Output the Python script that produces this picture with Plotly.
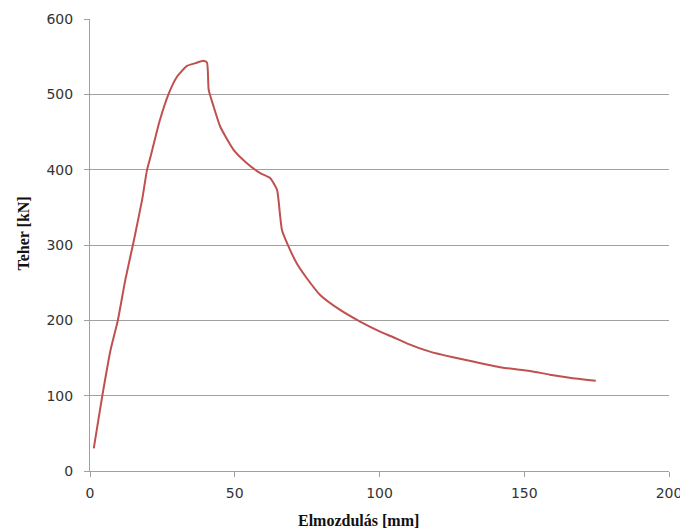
import plotly.graph_objects as go

# Displacement [mm] and load [kN]
elmozdulas = [1.3, 4.2, 7.1, 9.6, 12.2, 15.1, 18.0, 19.7, 20.9, 24.0, 27.2, 30.1,
              33.5, 36.4, 39.2, 40.4, 41.0, 42.7, 45.0, 49.6, 54.2, 58.8, 62.2,
              64.6, 65.7, 66.3, 68.6, 71.4, 74.9, 79.5, 86.4, 93.3, 100.2,
              104.8, 109.4, 117.4, 125.4, 133.5, 142.7, 151.9, 158.8, 165.7, 174.7]
teher = [30, 98.7, 160.7, 199.6, 253.7, 305, 359.9, 399.7, 417, 464, 501, 523.6,
         537.8, 541.4, 544.5, 542.2, 506, 483.8, 457, 426.3, 408.6, 395.4, 388.8,
         373.2, 337.7, 320, 297.9, 275.8, 255.9, 233.7, 213.8, 198.3, 185,
         177.5, 169.5, 158.5, 151, 144.3, 137.2, 132.8, 127.9, 123.9, 119.9]

x_ticks = [0, 50, 100, 150, 200]
y_ticks = [0, 100, 200, 300, 400, 500, 600]

fig = go.Figure()
fig.add_trace(go.Scatter(x=elmozdulas, y=teher, mode="lines",
                         line=dict(color="#c0504d", width=2, shape="spline", smoothing=0.5),
                         showlegend=False))

axis_common = dict(showline=True, linecolor="#a0a0a0", linewidth=1,
                   ticks="outside", ticklen=5, tickcolor="#a0a0a0",
                   tickfont=dict(family="DejaVu Sans", size=14, color="#333333"),
                   zeroline=False, automargin=False)

fig.update_xaxes(range=[0, 200], tickvals=x_ticks, showgrid=False,
                 ticklabelstandoff=4, **axis_common)
fig.update_yaxes(range=[0, 600], tickvals=y_ticks, showgrid=True,
                 gridcolor="#a0a0a0", gridwidth=1, ticklabelstandoff=8,
                 **axis_common)

fig.add_annotation(text="<b>Elmozdulás [mm]</b>", xref="paper", yref="paper",
                   x=(358 - 89.5) / (669 - 89.5), y=-(520 - 471) / (471 - 19),
                   showarrow=False, xanchor="center", yanchor="middle",
                   font=dict(family="Liberation Serif", size=16, color="#111111"))
fig.add_annotation(text="<b>Teher [kN]</b>", xref="paper", yref="paper",
                   x=-(89.5 - 22) / (669 - 89.5), y=(471 - 234) / (471 - 19),
                   textangle=-90, showarrow=False, xanchor="center", yanchor="middle",
                   font=dict(family="Liberation Serif", size=16, color="#111111"))

# page body has an 8px margin; figure is placed at (8, 8) and reaches the window edge
fig.update_layout(width=680, height=523,
                  margin=dict(l=81.5, r=19, t=11, b=60, autoexpand=False),
                  paper_bgcolor="white", plot_bgcolor="white")

fig.write_html("out.html")
